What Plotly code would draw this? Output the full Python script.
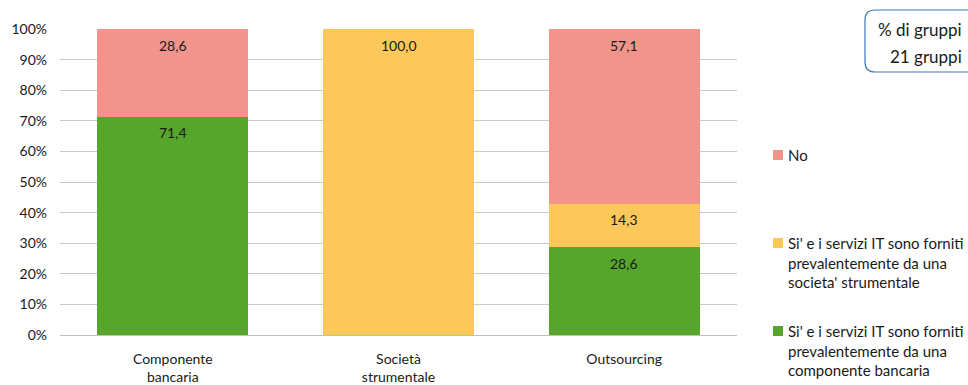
import plotly.graph_objects as go

# Chart data
categories = ["Componente<br>bancaria", "Società<br>strumentale", "Outsourcing"]
series_names = [
    "Si' e i servizi IT sono forniti<br>prevalentemente da una<br>componente bancaria",
    "Si' e i servizi IT sono forniti<br>prevalentemente da una<br>societa' strumentale",
    "No",
]
green_vals = [71.4, 0.0, 28.6]
yellow_vals = [0.0, 100.0, 14.3]
no_vals = [28.6, 0.0, 57.1]
series_values = [green_vals, yellow_vals, no_vals]
series_colors = ["#55A62B", "#FCC75B", "#F1948B"]
tick_vals = list(range(0, 101, 10))
tick_text = [f"{v}%" for v in tick_vals]
box_lines = ["% di gruppi", "21 gruppi"]

W, H = 968, 385
ML, MR, MT, MB = 60, 231, 29, 50
PW, PH = W - ML - MR, H - MT - MB
FONT = "Lato"
TXT = "#1a1a1a"


def px(x):
    return (x - ML) / PW


def py(y):
    return (H - MB - y) / PH


fig = go.Figure()
for name, vals, col in zip(series_names, series_values, series_colors):
    fig.add_trace(go.Bar(
        x=categories, y=vals, name=name, marker_color=col,
        marker_line_width=0, width=0.67, showlegend=False,
        hoverinfo="skip",
    ))

# value labels near the top of each segment
annotations = []
for ci, cat in enumerate(categories):
    base = 0.0
    for vals in series_values:
        v = vals[ci]
        if v > 0:
            annotations.append(dict(
                x=cat, y=base + v, xref="x", yref="y",
                text=f"{v:.1f}".replace(".", ","), showarrow=False,
                yanchor="middle", yshift=-16,
                font=dict(family=FONT, size=14, color=TXT),
            ))
        base += v

# legend drawn as squares + text on the right
legend_items = [
    (series_names[2], series_colors[2], 155),
    (series_names[1], series_colors[1], 243),
    (series_names[0], series_colors[0], 331),
]
shapes = []
for name, col, yc in legend_items:
    shapes.append(dict(
        type="rect", xref="paper", yref="paper",
        x0=px(773), x1=px(783), y0=py(yc - 5), y1=py(yc + 5),
        fillcolor=col, line_width=0,
    ))
    annotations.append(dict(
        x=px(786), y=py(yc - 11), xref="paper", yref="paper",
        xanchor="left", yanchor="top", align="left", showarrow=False,
        text=name, font=dict(family=FONT, size=15, color=TXT),
    ))

# rounded info box in the top right corner
bx0, bx1, by0, by1, r = 865, 990, 10, 72, 10
path = (
    f"M {px(bx0 + r)} {py(by0)} L {px(bx1)} {py(by0)} "
    f"L {px(bx1)} {py(by1)} L {px(bx0 + r)} {py(by1)} "
    f"Q {px(bx0)} {py(by1)} {px(bx0)} {py(by1 - r)} "
    f"L {px(bx0)} {py(by0 + r)} "
    f"Q {px(bx0)} {py(by0)} {px(bx0 + r)} {py(by0)} Z"
)
shapes.append(dict(type="path", xref="paper", yref="paper", path=path,
                   line=dict(color="#3A78B8", width=1.2), fillcolor="white"))
for line, yc in zip(box_lines, [29, 56]):
    annotations.append(dict(
        x=px(964), y=py(yc), xref="paper", yref="paper",
        xanchor="right", yanchor="middle", showarrow=False,
        text=line, font=dict(family=FONT, size=17, color=TXT),
    ))

fig.update_layout(
    barmode="stack",
    width=W, height=H,
    margin=dict(l=ML, r=MR, t=MT, b=MB, pad=0),
    paper_bgcolor="white", plot_bgcolor="white",
    font=dict(family=FONT, size=14, color=TXT),
    bargap=0.33,
    annotations=annotations,
    shapes=shapes,
    showlegend=False,
    xaxis=dict(
        showgrid=False, showline=True, linecolor="#BFBFBF", linewidth=1,
        ticks="", ticklabelstandoff=11, automargin=False,
        tickfont=dict(family=FONT, size=14, color=TXT),
    ),
    yaxis=dict(
        range=[0, 100], tickvals=tick_vals, ticktext=tick_text,
        showgrid=True, gridcolor="#C9C9C9", gridwidth=1,
        zeroline=False, showline=False, ticks="",
        ticklabelstandoff=12, automargin=False,
        tickfont=dict(family=FONT, size=14, color=TXT),
    ),
)

fig.write_html("out.html")
